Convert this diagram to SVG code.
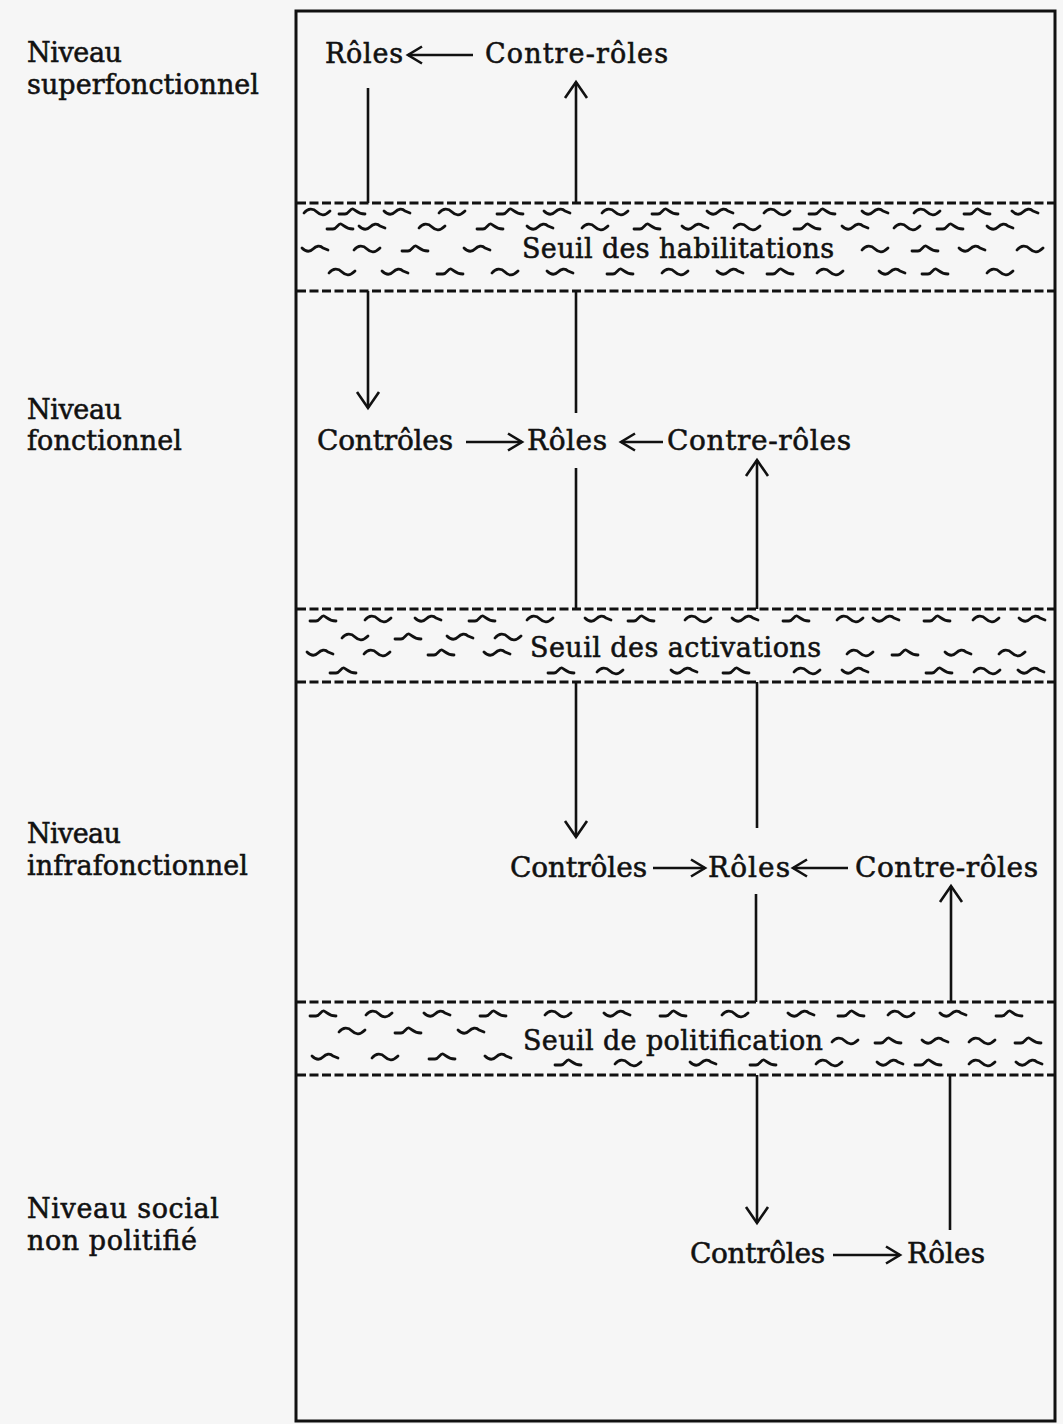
<svg xmlns="http://www.w3.org/2000/svg" width="1063" height="1424" viewBox="0 0 1063 1424">
  <style>
    .t { font-family: 'DejaVu Serif', 'Liberation Serif', serif; font-size: 27px; fill: #111; stroke: #111; stroke-width: 0.55; }
    .big { font-size: 28px; }
    .ln { stroke: #111; stroke-width: 2.6; fill: none; }
    .dash { stroke: #111; stroke-width: 2.8; stroke-dasharray: 9 3.5; fill: none; }
    .waves { stroke: #111; stroke-width: 2.8; fill: none; stroke-linecap: round; stroke-linejoin: round; }
  </style>
  <defs>
    <!-- open chevron heads: small for horizontal links, larger for vertical ones -->
    <marker id="ah" markerUnits="userSpaceOnUse" viewBox="-17 -11 21 22" markerWidth="21" markerHeight="22" refX="0" refY="0" orient="auto">
      <path d="M-14,-8.5 L0,0 L-14,8.5" fill="none" stroke="#111" stroke-width="2.6"/>
    </marker>
    <marker id="av" markerUnits="userSpaceOnUse" viewBox="-19 -13 23 26" markerWidth="23" markerHeight="26" refX="0" refY="0" orient="auto">
      <path d="M-16,-11 L0,0 L-16,11" fill="none" stroke="#111" stroke-width="2.6"/>
    </marker>
    <!-- little wave marks filling the threshold bands -->
    <path id="w1" d="M-2,5 C2,0 7,0 11,4 S19,8 24,3"/>
    <path id="w2" d="M-2,6 H4 C8,6 9,0 12,1 S16,6 24,6"/>
    <path id="w3" d="M-2,3 C2,7 6,7 9,4 S16,0 19,3 L24,5"/>
  </defs>

  <!-- page -->
  <rect x="0" y="0" width="1063" height="1424" fill="#f6f6f6"/>

  <!-- frame -->
  <rect x="296" y="11" width="759" height="1410" fill="none" stroke="#111" stroke-width="3"/>

  <!-- level labels -->
  <g id="label-superfonctionnel">
    <text class="t" x="27" y="62" textLength="95">Niveau</text>
    <text class="t" x="27" y="94" textLength="232">superfonctionnel</text>
  </g>
  <g id="label-fonctionnel">
    <text class="t" x="27" y="419" textLength="95">Niveau</text>
    <text class="t" x="27" y="450" textLength="155">fonctionnel</text>
  </g>
  <g id="label-infrafonctionnel">
    <text class="t" x="27" y="843" textLength="94">Niveau</text>
    <text class="t" x="27" y="875" textLength="221">infrafonctionnel</text>
  </g>
  <g id="label-social">
    <text class="t" x="27" y="1218" textLength="192">Niveau social</text>
    <text class="t" x="27" y="1250" textLength="170">non politifié</text>
  </g>

  <!-- thresholds -->
  <g id="seuil-habilitations">
    <line class="dash" x1="297" y1="203" x2="1054" y2="203"/>
    <line class="dash" x1="297" y1="291" x2="1054" y2="291"/>
    <g class="waves">
      <use href="#w1" x="306" y="208"/><use href="#w2" x="341" y="208"/><use href="#w3" x="386" y="208"/>
      <use href="#w1" x="441" y="208"/><use href="#w2" x="499" y="208"/><use href="#w3" x="546" y="208"/>
      <use href="#w1" x="604" y="208"/><use href="#w2" x="654" y="208"/><use href="#w3" x="709" y="208"/>
      <use href="#w1" x="766" y="208"/><use href="#w2" x="811" y="208"/><use href="#w3" x="864" y="208"/>
      <use href="#w1" x="916" y="208"/><use href="#w2" x="966" y="208"/><use href="#w3" x="1014" y="208"/>
      <use href="#w2" x="329" y="223"/><use href="#w3" x="361" y="223"/><use href="#w1" x="421" y="223"/>
      <use href="#w2" x="479" y="223"/><use href="#w3" x="529" y="223"/><use href="#w1" x="584" y="223"/>
      <use href="#w2" x="636" y="223"/><use href="#w3" x="684" y="223"/><use href="#w1" x="736" y="223"/>
      <use href="#w2" x="796" y="223"/><use href="#w3" x="844" y="223"/><use href="#w1" x="896" y="223"/>
      <use href="#w2" x="939" y="223"/><use href="#w3" x="989" y="223"/>
      <use href="#w3" x="304" y="245"/><use href="#w1" x="356" y="245"/><use href="#w2" x="404" y="245"/>
      <use href="#w3" x="466" y="245"/><use href="#w1" x="864" y="245"/><use href="#w2" x="914" y="245"/>
      <use href="#w3" x="961" y="245"/><use href="#w1" x="1019" y="245"/>
      <use href="#w1" x="331" y="268"/><use href="#w3" x="384" y="268"/><use href="#w2" x="439" y="268"/>
      <use href="#w1" x="494" y="268"/><use href="#w3" x="549" y="268"/><use href="#w2" x="609" y="268"/>
      <use href="#w1" x="664" y="268"/><use href="#w3" x="719" y="268"/><use href="#w2" x="769" y="268"/>
      <use href="#w1" x="819" y="268"/><use href="#w3" x="881" y="268"/><use href="#w2" x="924" y="268"/>
      <use href="#w1" x="989" y="268"/>
    </g>
    <text class="t" x="522" y="258" textLength="312">Seuil des habilitations</text>
  </g>

  <g id="seuil-activations">
    <line class="dash" x1="297" y1="609" x2="1054" y2="609"/>
    <line class="dash" x1="297" y1="682" x2="1054" y2="682"/>
    <g class="waves">
      <use href="#w2" x="312" y="615"/><use href="#w1" x="367" y="615"/><use href="#w3" x="417" y="615"/>
      <use href="#w2" x="471" y="615"/><use href="#w1" x="529" y="615"/><use href="#w3" x="587" y="615"/>
      <use href="#w2" x="630" y="615"/><use href="#w1" x="687" y="615"/><use href="#w3" x="734" y="615"/>
      <use href="#w2" x="785" y="615"/><use href="#w1" x="839" y="615"/><use href="#w3" x="875" y="615"/>
      <use href="#w2" x="926" y="615"/><use href="#w1" x="975" y="615"/><use href="#w3" x="1021" y="615"/>
      <use href="#w1" x="344" y="633"/><use href="#w2" x="397" y="633"/><use href="#w3" x="449" y="633"/>
      <use href="#w1" x="497" y="633"/>
      <use href="#w3" x="309" y="649"/><use href="#w1" x="366" y="649"/><use href="#w2" x="430" y="649"/>
      <use href="#w3" x="486" y="649"/><use href="#w1" x="849" y="649"/><use href="#w2" x="894" y="649"/>
      <use href="#w3" x="947" y="649"/><use href="#w1" x="1001" y="649"/>
      <use href="#w2" x="332" y="667"/><use href="#w2" x="550" y="667"/><use href="#w1" x="599" y="667"/>
      <use href="#w3" x="673" y="667"/><use href="#w2" x="725" y="667"/><use href="#w1" x="796" y="667"/>
      <use href="#w3" x="844" y="667"/><use href="#w2" x="928" y="667"/><use href="#w1" x="976" y="667"/>
      <use href="#w3" x="1020" y="667"/>
    </g>
    <text class="t" x="530" y="657" textLength="291">Seuil des activations</text>
  </g>

  <g id="seuil-politification">
    <line class="dash" x1="297" y1="1002" x2="1054" y2="1002"/>
    <line class="dash" x1="297" y1="1075" x2="1054" y2="1075"/>
    <g class="waves">
      <use href="#w2" x="312" y="1010"/><use href="#w1" x="368" y="1010"/><use href="#w3" x="426" y="1010"/>
      <use href="#w2" x="482" y="1010"/><use href="#w1" x="547" y="1010"/><use href="#w3" x="606" y="1010"/>
      <use href="#w2" x="662" y="1010"/><use href="#w1" x="724" y="1010"/><use href="#w3" x="790" y="1010"/>
      <use href="#w2" x="840" y="1010"/><use href="#w1" x="890" y="1010"/><use href="#w3" x="942" y="1010"/>
      <use href="#w2" x="998" y="1010"/>
      <use href="#w1" x="341" y="1027"/><use href="#w2" x="397" y="1027"/><use href="#w3" x="460" y="1027"/>
      <use href="#w1" x="834" y="1037"/><use href="#w2" x="877" y="1037"/><use href="#w3" x="924" y="1037"/>
      <use href="#w1" x="971" y="1037"/><use href="#w2" x="1017" y="1037"/>
      <use href="#w3" x="314" y="1053"/><use href="#w1" x="374" y="1053"/><use href="#w2" x="431" y="1053"/>
      <use href="#w3" x="487" y="1053"/>
      <use href="#w2" x="557" y="1059"/><use href="#w1" x="617" y="1059"/><use href="#w3" x="692" y="1059"/>
      <use href="#w2" x="752" y="1059"/><use href="#w1" x="818" y="1059"/><use href="#w3" x="879" y="1059"/>
      <use href="#w2" x="917" y="1059"/><use href="#w1" x="971" y="1059"/><use href="#w3" x="1018" y="1059"/>
    </g>
    <text class="t" x="523" y="1050" textLength="300">Seuil de politification</text>
  </g>

  <!-- superfunctional level -->
  <g id="sup-roles"><text class="t" x="325" y="63" textLength="78">Rôles</text></g>
  <g id="sup-contre-roles"><text class="t" x="485" y="63" textLength="183">Contre-rôles</text></g>

  <!-- functional level -->
  <g id="fon-controles"><text class="t big" x="317" y="450" textLength="136">Contrôles</text></g>
  <g id="fon-roles"><text class="t big" x="527" y="450" textLength="80">Rôles</text></g>
  <g id="fon-contre-roles"><text class="t big" x="667" y="450" textLength="184">Contre-rôles</text></g>

  <!-- infrafunctional level -->
  <g id="inf-controles"><text class="t big" x="510" y="877" textLength="137">Contrôles</text></g>
  <g id="inf-roles"><text class="t big" x="708" y="877" textLength="82">Rôles</text></g>
  <g id="inf-contre-roles"><text class="t big" x="855" y="877" textLength="183">Contre-rôles</text></g>

  <!-- non-politicised social level -->
  <g id="soc-controles"><text class="t big" x="690" y="1263" textLength="135">Contrôles</text></g>
  <g id="soc-roles"><text class="t big" x="907" y="1263" textLength="78">Rôles</text></g>

  <!-- connectors -->
  <g id="connectors">
    <!-- horizontal links inside each level -->
    <line class="ln" x1="473" y1="55" x2="408" y2="55" marker-end="url(#ah)"/>
    <line class="ln" x1="466" y1="442" x2="522" y2="442" marker-end="url(#ah)"/>
    <line class="ln" x1="663" y1="442" x2="621" y2="442" marker-end="url(#ah)"/>
    <line class="ln" x1="653" y1="868" x2="705" y2="868" marker-end="url(#ah)"/>
    <line class="ln" x1="848" y1="868" x2="793" y2="868" marker-end="url(#ah)"/>
    <line class="ln" x1="833" y1="1255" x2="900" y2="1255" marker-end="url(#ah)"/>

    <!-- roles passing down as controls of the level below -->
    <line class="ln" x1="368" y1="88" x2="368" y2="203"/>
    <line class="ln" x1="368" y1="291" x2="368" y2="408" marker-end="url(#av)"/>
    <line class="ln" x1="576" y1="468" x2="576" y2="609"/>
    <line class="ln" x1="576" y1="682" x2="576" y2="837" marker-end="url(#av)"/>
    <line class="ln" x1="756" y1="894" x2="756" y2="1002"/>
    <line class="ln" x1="757" y1="1075" x2="757" y2="1223" marker-end="url(#av)"/>

    <!-- roles rising as counter-roles of the level above -->
    <line class="ln" x1="576" y1="413" x2="576" y2="291"/>
    <line class="ln" x1="576" y1="203" x2="576" y2="82" marker-end="url(#av)"/>
    <line class="ln" x1="757" y1="828" x2="757" y2="682"/>
    <line class="ln" x1="757" y1="609" x2="757" y2="460" marker-end="url(#av)"/>
    <line class="ln" x1="950" y1="1230" x2="950" y2="1075"/>
    <line class="ln" x1="951" y1="1002" x2="951" y2="886" marker-end="url(#av)"/>
  </g>
</svg>
